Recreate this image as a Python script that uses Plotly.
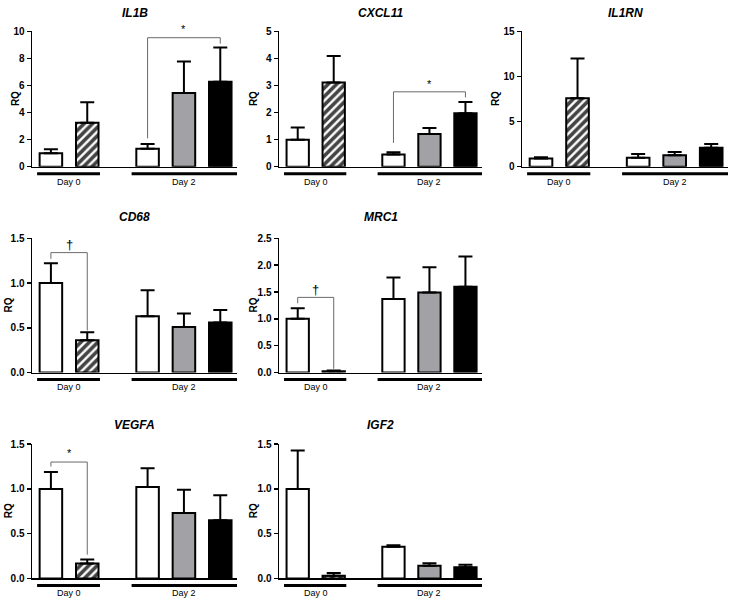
import plotly.graph_objects as go

W, H = 730, 605

genes = ["IL1B", "CXCL11", "IL1RN", "CD68", "MRC1", "VEGFA", "IGF2"]
group_labels = ["Day 0", "Day 2"]
bar_positions = [0, 1, 2.66, 3.66, 4.66]

means = {
    "IL1B":   [1.0, 3.26, 1.33, 5.46, 6.28],
    "CXCL11": [1.0, 3.11, 0.45, 1.21, 1.98],
    "IL1RN":  [0.92, 7.6, 1.0, 1.27, 2.12],
    "CD68":   [1.0, 0.36, 0.63, 0.51, 0.56],
    "MRC1":   [1.0, 0.025, 1.37, 1.49, 1.6],
    "VEGFA":  [1.0, 0.167, 1.02, 0.73, 0.65],
    "IGF2":   [1.0, 0.03, 0.354, 0.142, 0.124],
}
upper = {  # top of error bar (mean + SEM)
    "IL1B":   [1.3, 4.76, 1.69, 7.78, 8.82],
    "CXCL11": [1.45, 4.09, 0.54, 1.43, 2.39],
    "IL1RN":  [1.05, 12.0, 1.41, 1.63, 2.53],
    "CD68":   [1.22, 0.45, 0.92, 0.66, 0.70],
    "MRC1":   [1.2, 0.04, 1.77, 1.96, 2.16],
    "VEGFA":  [1.19, 0.21, 1.23, 0.99, 0.93],
    "IGF2":   [1.43, 0.06, 0.37, 0.17, 0.153],
}
y_max = {"IL1B": 10, "CXCL11": 5, "IL1RN": 15, "CD68": 1.5, "MRC1": 2.5, "VEGFA": 1.5, "IGF2": 1.5}
y_dtick = {"IL1B": 2, "CXCL11": 1, "IL1RN": 5, "CD68": 0.5, "MRC1": 0.5, "VEGFA": 0.5, "IGF2": 0.5}
y_fmt = {"IL1B": "", "CXCL11": "", "IL1RN": "", "CD68": ".1f", "MRC1": ".1f", "VEGFA": ".1f", "IGF2": ".1f"}

# significance brackets: gene -> (left bar, right bar, top, left leg bottom, right leg bottom, symbol, symbol y)
brackets = {
    "IL1B":   (2, 4, 9.54, 2.1, 9.1, "*", 10.15),
    "CXCL11": (2, 4, 2.77, 0.88, 2.56, "*", 3.05),
    "CD68":   (0, 1, 1.34, 1.27, 0.47, "†", 1.43),
    "MRC1":   (0, 1, 1.40, 1.29, 0.07, "†", 1.55),
    "VEGFA":  (0, 1, 1.30, 1.25, 0.265, "*", 1.40),
}

bar_colors = ["white", "white", "white", "#a2a2a6", "black"]
bar_patterns = ["", "/", "", "", ""]

# layout in pixels
cols_px = [(32, 237), (279, 482), (522, 728)]
rows_px = [(26, 164), (237, 374), (447, 584)]
title_y_px = [7, 215, 427]
rq_x_px = {(0, 0): 15, (0, 1): 253, (0, 2): 495, (1, 0): 8, (1, 1): 253, (2, 0): 8, (2, 1): 253}
panel_cells = [(0, 0), (0, 1), (0, 2), (1, 0), (1, 1), (2, 0), (2, 1)]

FONT = "Arial, Liberation Sans, Helvetica, sans-serif"

fig = go.Figure()
shapes = []
annotations = []
layout = {}

for i, (gene, (r, c)) in enumerate(zip(genes, panel_cells), start=1):
    suffix = "" if i == 1 else str(i)
    xref, yref = "x" + suffix, "y" + suffix
    m = means[gene]
    err = [u - v for u, v in zip(upper[gene], m)]
    fig.add_trace(go.Bar(
        x=bar_positions, y=m, width=0.62,
        xaxis=xref, yaxis=yref,
        marker=dict(color=bar_colors, line=dict(color="black", width=2),
                    pattern=dict(shape=bar_patterns, fgcolor="black", fgopacity=1,
                                 size=6, solidity=0.6)),
        error_y=dict(type="data", array=err, arrayminus=[0] * 5, symmetric=False,
                     color="black", thickness=2, width=7),
        showlegend=False, hoverinfo="skip", cliponaxis=False,
    ))
    x0, x1 = cols_px[c]
    y0, y1 = rows_px[r]
    layout["xaxis" + suffix] = dict(
        domain=[x0 / W, x1 / W], anchor=yref, range=[-0.52, 5.12],
        showline=True, linecolor="black", linewidth=1.5, showticklabels=False,
        ticks="", showgrid=False, zeroline=False, fixedrange=True,
    )
    layout["yaxis" + suffix] = dict(
        domain=[1 - y1 / H, 1 - y0 / H], anchor=xref, range=[0, y_max[gene]],
        dtick=y_dtick[gene], tick0=0, tickformat=y_fmt[gene],
        showline=True, linecolor="black", linewidth=1.5, ticks="outside",
        ticklen=4, tickwidth=1.5, tickcolor="black", showgrid=False, zeroline=False,
        tickfont=dict(family=FONT, size=10, color="black", weight="bold"),
        fixedrange=True,
    )
    # title
    annotations.append(dict(text="<b><i>%s</i></b>" % gene, x=(x0 + x1) / 2 / W, y=1 - title_y_px[r] / H,
                            xref="paper", yref="paper", showarrow=False, xanchor="center", yanchor="middle",
                            font=dict(family=FONT, size=12, color="black")))
    # RQ label
    annotations.append(dict(text="<b>RQ</b>", x=rq_x_px[(r, c)] / W, y=1 - (y0 + y1) / 2 / H,
                            xref="paper", yref="paper", showarrow=False, textangle=-90,
                            xanchor="center", yanchor="middle",
                            font=dict(family=FONT, size=10, color="black")))
    # group lines and labels
    for (gx0, gx1, label, lx) in [(-0.38, 1.35, group_labels[0], 0.5), (2.22, 5.12, group_labels[1], 3.66)]:
        shapes.append(dict(type="line", xref=xref, yref=yref + " domain", x0=gx0, x1=gx1, y0=-0.052, y1=-0.052,
                           line=dict(color="black", width=3)))
        annotations.append(dict(text=label, x=lx, y=-0.11, xref=xref, yref=yref + " domain",
                                showarrow=False, xanchor="center", yanchor="middle",
                                font=dict(family=FONT, size=9, color="black")))
    # significance bracket
    if gene in brackets:
        a, b, top, lb, rb, sym, sy = brackets[gene]
        xa, xb = bar_positions[a], bar_positions[b]
        for (px0, py0, px1, py1) in [(xa, lb, xa, top), (xa, top, xb, top), (xb, top, xb, rb)]:
            shapes.append(dict(type="line", xref=xref, yref=yref, x0=px0, y0=py0, x1=px1, y1=py1,
                               line=dict(color="#6a6a6a", width=1)))
        annotations.append(dict(text=sym, x=(xa + xb) / 2, y=sy / y_max[gene], xref=xref,
                                yref=yref + " domain", showarrow=False,
                                xanchor="center", yanchor="middle",
                                font=dict(family=FONT, size=11 if sym == "*" else 13, color="black")))

fig.update_layout(
    width=W, height=H, margin=dict(l=0, r=0, t=0, b=0),
    paper_bgcolor="white", plot_bgcolor="white",
    shapes=shapes, annotations=annotations, bargap=0,
    **layout,
)

fig.write_html("out.html", config={"displayModeBar": False, "staticPlot": True},
               post_script="document.body.style.margin='0';document.body.style.overflow='hidden';")
